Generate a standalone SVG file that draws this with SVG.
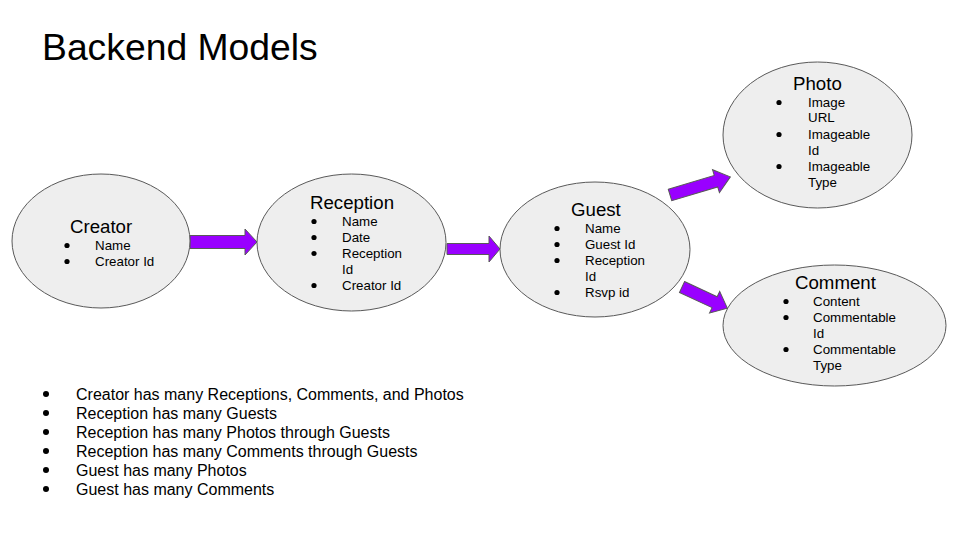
<svg xmlns="http://www.w3.org/2000/svg" width="960" height="540" viewBox="0 0 960 540">
<style>
text{font-family:"Liberation Sans",Arial,sans-serif;fill:#000}
.t{font-size:18.67px}
.i{font-size:13.33px}
.l{font-size:16px}
.e{fill:#eeeeee;stroke:#595959;stroke-width:1}
.a{fill:#9900ff;stroke:#595959;stroke-width:1;stroke-linejoin:miter}
.b{fill:#000}
</style>
<rect width="960" height="540" fill="#fff"/>
<text x="42" y="60" style="font-size:37.3px">Backend Models</text>

<g id="connectors">
<path class="a" transform="translate(190,242)" d="M0,-6.5 H55 V-13 L67,0 L55,13 V6.5 H0 Z"/>
<path class="a" transform="translate(447,249)" d="M0,-5.5 H42 V-13 L53,0 L42,13 V5.5 H0 Z"/>
<path class="a" transform="translate(670,195) rotate(-16.7)" d="M0,-6 H48 V-12 L63,0 L48,12 V6 H0 Z"/>
<path class="a" transform="translate(682,287) rotate(25)" d="M0,-6 H36 V-12 L50,0 L36,12 V6 H0 Z"/>
</g>

<g id="creator">
<ellipse class="e" cx="101" cy="241" rx="89" ry="67"/>
<text class="t" x="70" y="233">Creator</text>
<circle class="b" cx="67" cy="245.5" r="2.6"/><text class="i" x="95" y="250">Name</text>
<circle class="b" cx="67" cy="261.5" r="2.6"/><text class="i" x="95" y="266">Creator Id</text>
</g>

<g id="reception">
<ellipse class="e" cx="351.5" cy="242.5" rx="94.5" ry="68.5"/>
<text class="t" x="310" y="209">Reception</text>
<circle class="b" cx="314" cy="221.5" r="2.6"/><text class="i" x="342" y="226">Name</text>
<circle class="b" cx="314" cy="237.5" r="2.6"/><text class="i" x="342" y="242">Date</text>
<circle class="b" cx="314" cy="253.5" r="2.6"/><text class="i" x="342" y="258">Reception</text>
<text class="i" x="342" y="274">Id</text>
<circle class="b" cx="314" cy="285.5" r="2.6"/><text class="i" x="342" y="290">Creator Id</text>
</g>

<g id="guest">
<ellipse class="e" cx="595" cy="249.5" rx="95" ry="67.5"/>
<text class="t" x="571" y="216">Guest</text>
<circle class="b" cx="557" cy="228.5" r="2.6"/><text class="i" x="585" y="233">Name</text>
<circle class="b" cx="557" cy="244.5" r="2.6"/><text class="i" x="585" y="249">Guest Id</text>
<circle class="b" cx="557" cy="260.5" r="2.6"/><text class="i" x="585" y="265">Reception</text>
<text class="i" x="585" y="281">Id</text>
<circle class="b" cx="557" cy="292.5" r="2.6"/><text class="i" x="585" y="297">Rsvp id</text>
</g>

<g id="photo">
<ellipse class="e" cx="817.5" cy="135" rx="94.5" ry="73"/>
<text class="t" x="793" y="90">Photo</text>
<circle class="b" cx="779" cy="102.5" r="2.6"/><text class="i" x="808" y="107">Image</text>
<text class="i" x="808" y="122">URL</text>
<circle class="b" cx="779" cy="134.5" r="2.6"/><text class="i" x="808" y="139">Imageable</text>
<text class="i" x="808" y="155">Id</text>
<circle class="b" cx="779" cy="166.5" r="2.6"/><text class="i" x="808" y="171">Imageable</text>
<text class="i" x="808" y="187">Type</text>
</g>

<g id="comment">
<ellipse class="e" cx="834.5" cy="325.5" rx="111.5" ry="60.5"/>
<text class="t" x="795" y="289">Comment</text>
<circle class="b" cx="786" cy="301.5" r="2.6"/><text class="i" x="813" y="306">Content</text>
<circle class="b" cx="786" cy="317.5" r="2.6"/><text class="i" x="813" y="322">Commentable</text>
<text class="i" x="813" y="338">Id</text>
<circle class="b" cx="786" cy="349.5" r="2.6"/><text class="i" x="813" y="354">Commentable</text>
<text class="i" x="813" y="370">Type</text>
</g>

<g id="notes">
<circle class="b" cx="46" cy="394" r="3"/><text class="l" x="76" y="399.5">Creator has many Receptions, Comments, and Photos</text>
<circle class="b" cx="46" cy="413" r="3"/><text class="l" x="76" y="418.5">Reception has many Guests</text>
<circle class="b" cx="46" cy="432" r="3"/><text class="l" x="76" y="437.5">Reception has many Photos through Guests</text>
<circle class="b" cx="46" cy="451" r="3"/><text class="l" x="76" y="456.5">Reception has many Comments through Guests</text>
<circle class="b" cx="46" cy="470" r="3"/><text class="l" x="76" y="475.5">Guest has many Photos</text>
<circle class="b" cx="46" cy="489" r="3"/><text class="l" x="76" y="494.5">Guest has many Comments</text>
</g>
</svg>
